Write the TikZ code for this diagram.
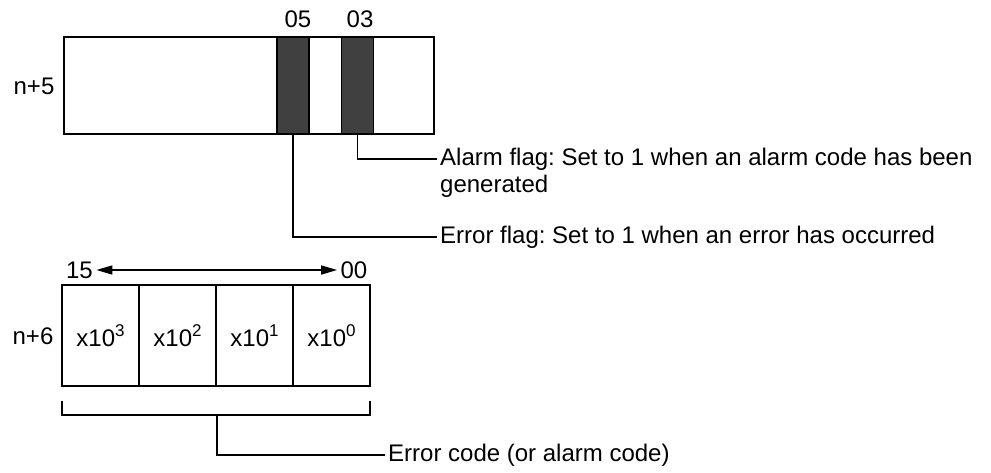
\documentclass[tikz,border=0pt]{standalone}
\usepackage{fontspec}
\setmainfont{Liberation Sans}
\usetikzlibrary{arrows.meta, positioning}
\definecolor{darkbar}{RGB}{64,64,64}
\newcommand{\pow}[1]{x10\raisebox{0.42em}{\fontsize{17}{17}\selectfont #1}}
\frenchspacing

\begin{document}
\begin{tikzpicture}[
    x=1pt, y=-1pt,
    font=\fontsize{24}{27}\selectfont,
    word/.style={rectangle, draw=black, line width=1.6pt, minimum width=370pt, minimum height=97pt, inner sep=0pt, outer sep=0pt},
    flagbit/.style={rectangle, draw=black, fill=darkbar, line width=1.6pt, minimum width=32pt, minimum height=97pt, inner sep=0pt, outer sep=0pt},
    cell/.style={rectangle, draw=black, line width=1.6pt, minimum width=77pt, minimum height=101pt, inner sep=0pt, outer sep=0pt},
    lead/.style={draw, line width=1.6pt},
    span/.style={draw, line width=1.6pt, {Triangle[length=16pt,width=9pt]}-{Triangle[length=16pt,width=9pt]}},
    note/.style={anchor=west, inner sep=3pt, align=left}
]
\useasboundingbox (0,0) rectangle (991,472);
% word n+5 with its two flags
\node [word] (wordA) at (249,85.5) {};
\node [flagbit] (bit05) at (293,85.5) {};
\node [flagbit] (bit03) at (357.5,85.5) {};
\node (lab05) at (298,19) {05};
\node (lab03) at (360,19) {03};
\node (wordAname) at (34,86) {n+5};
\coordinate (alarmend) at (437,159);
\node [note, anchor=north west] (alarmnote) at (437,145) {Alarm flag: Set to 1 when an alarm code has been\\generated};
\node [note] (errnote) at (437,237) {Error flag: Set to 1 when an error has occurred};
\draw [lead] (bit03.south) |- (alarmend);
\draw [lead] (bit05.south) |- (errnote.west);
% word n+6 with the code digits
\node [cell] (c3) at (100.5,335.5) {\pow{3}};
\node [cell, right=0pt of c3] (c2) {\pow{2}};
\node [cell, right=0pt of c2] (c1) {\pow{1}};
\node [cell, right=0pt of c1] (c0) {\pow{0}};
\node (wordBname) at (33,336) {n+6};
\node (hi) at (79.5,270) {15};
\node (lo) at (354,270) {00};
\draw [span] (hi) -- (lo);
% bracket under the code
\draw [lead] (62,401) |- (370,415) -- (370,401);
\node [note] (codenote) at (385,455) {Error code (or alarm code)};
\draw [lead] (217,415) |- (codenote.west);
\end{tikzpicture}
\end{document}
